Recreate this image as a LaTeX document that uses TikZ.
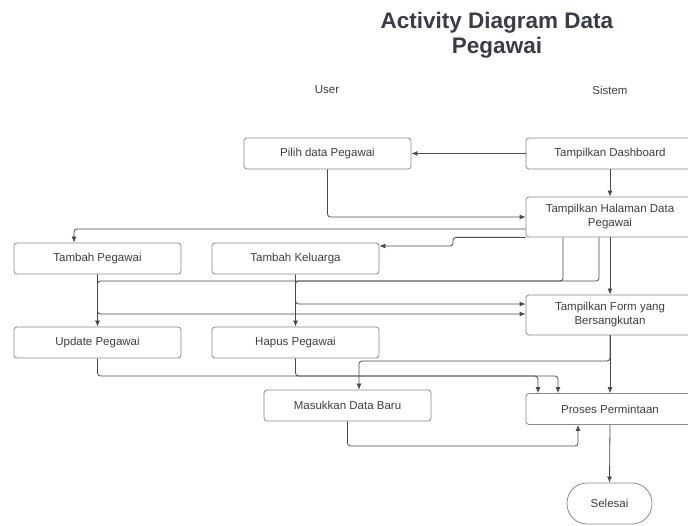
\documentclass[tikz,border=0pt]{standalone}
\usepackage{fontspec}
\setmainfont{Liberation Sans}
\usetikzlibrary{arrows.meta}
\definecolor{linec}{HTML}{4A4A4A}
\definecolor{boxc}{HTML}{8A8A8A}
\definecolor{txtc}{HTML}{3F3F3F}
\definecolor{titlec}{HTML}{3A3D45}
\begin{document}
\begin{tikzpicture}[x=1pt,y=-1pt,
  box/.style={draw=boxc, line width=0.8pt, rounded corners=3pt, minimum width=167pt, minimum height=31pt, inner sep=0pt, font=\fontsize{11.5}{14}\selectfont, text=txtc, align=center},
  wbox/.style={box, minimum width=168pt},
  conn/.style={draw=linec, line width=0.8pt, rounded corners=3pt, -{Latex[length=6pt,width=5pt]}},
  lane/.style={font=\fontsize{11.5}{14}\selectfont, text=txtc}]
\clip (0,0) rectangle (688,526);
\fill[white] (0,0) rectangle (688,526);

\node[font=\bfseries\fontsize{22.5}{25}\selectfont, text=titlec, align=center] (title) at (497,35) {Activity Diagram Data\\Pegawai};
\node[lane] (user) at (327,90) {User};
\node[lane] (sistem) at (610,90) {Sistem};

\node[box]  (pilih) at (327.5,153.5) {Pilih data Pegawai};
\node[wbox] (dash)  at (610,153.5) {Tampilkan Dashboard};
\node[wbox, minimum height=40pt] (hal) at (610,217) {Tampilkan Halaman Data\\Pegawai};
\node[box]  (tpeg)  at (97.5,258.5) {Tambah Pegawai};
\node[box]  (tkel)  at (295.5,258.5) {Tambah Keluarga};
\node[wbox, minimum height=40pt] (form) at (610,315) {Tampilkan Form yang\\Bersangkutan};
\node[box]  (upd)   at (97.5,342.5) {Update Pegawai};
\node[box]  (hap)   at (295.5,342.5) {Hapus Pegawai};
\node[box]  (mas)   at (347.5,405.5) {Masukkan Data Baru};
\node[wbox] (pros)  at (610,409) {Proses Permintaan};
\node[box, minimum width=85pt, minimum height=41pt, rounded corners=20pt] (sel) at (609.5,503.5) {Selesai};

\draw[conn] (dash.west) -- (pilih.east);
\draw[conn] (dash.south) -- (hal.north);
\draw[conn] (pilih.south) |- (hal.west);
\draw[conn] (hal.west |- 0,229) -| (tpeg.north -| 74,0);
\draw[conn] (hal.south west) -| (453,246) -- (tkel.east |- 0,246);
\draw[conn] (hal.south -| 563,0) |- (upd.north |- 0,281) -- (upd.north);
\draw[conn] (hal.south -| 599,0) |- (hap.north |- 0,281) -- (hap.north);
\draw[conn] (tkel.south) |- (form.west |- 0,304);
\draw[conn] (tpeg.south) |- (form.west |- 0,314);
\draw[conn] (hal.south) -- (form.north);
\draw[conn] (form.south) -- (pros.north);
\draw[conn] (form.south) -- (form.south |- 0,361) -| (mas.north -| 359,0);
\draw[conn] (upd.south) -- (upd.south |- 0,376) -| (pros.north -| 538,0);
\draw[conn] (hap.south) -- (hap.south |- 0,376) -| (pros.north -| 558,0);
\draw[conn] (mas.south) -- (mas.south |- 0,446) -| (pros.south -| 578,0);
\draw[conn] (pros.south) -- (sel.north);
\end{tikzpicture}
\end{document}
